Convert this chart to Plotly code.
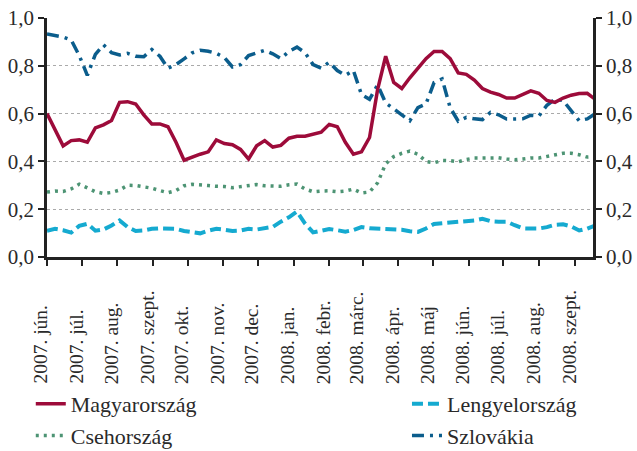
import pandas as pd
import plotly.graph_objects as go

# ---- data (weekly readings, starting 2007-06-01) ----
start_date = "2007-06-01"
n_weeks = 69
dates = pd.date_range(start=start_date, periods=n_weeks, freq="7D")

magyarorszag = [0.60, 0.53, 0.465, 0.487, 0.49, 0.48, 0.54, 0.553, 0.571, 0.647,
                0.65, 0.64, 0.595, 0.557, 0.557, 0.545, 0.48, 0.405, 0.418, 0.43,
                0.44, 0.49, 0.475, 0.47, 0.45, 0.41, 0.465, 0.487, 0.46, 0.467,
                0.497, 0.505, 0.505, 0.515, 0.522, 0.555, 0.545, 0.48, 0.43, 0.44,
                0.50, 0.70, 0.84, 0.73, 0.705, 0.75, 0.79, 0.83, 0.86, 0.86,
                0.83, 0.77, 0.764, 0.74, 0.705, 0.69, 0.68, 0.665, 0.665, 0.68,
                0.695, 0.685, 0.655, 0.647, 0.665, 0.677, 0.684, 0.685, 0.66]

lengyelorszag = [0.11, 0.118, 0.112, 0.102, 0.13, 0.139, 0.11, 0.115, 0.132, 0.153,
                 0.125, 0.109, 0.111, 0.118, 0.12, 0.12, 0.118, 0.109, 0.106, 0.099,
                 0.11, 0.118, 0.114, 0.109, 0.111, 0.118, 0.115, 0.119, 0.126, 0.148,
                 0.166, 0.19, 0.14, 0.103, 0.108, 0.117, 0.112, 0.106, 0.113, 0.125,
                 0.12, 0.119, 0.12, 0.117, 0.114, 0.108, 0.105, 0.119, 0.138, 0.141,
                 0.144, 0.146, 0.147, 0.153, 0.16, 0.15, 0.148, 0.148, 0.133, 0.12,
                 0.119, 0.119, 0.125, 0.135, 0.137, 0.128, 0.111, 0.119, 0.132]

csehorszag = [0.272, 0.276, 0.274, 0.285, 0.305, 0.287, 0.273, 0.266, 0.27, 0.28,
              0.30, 0.299, 0.294, 0.288, 0.278, 0.269, 0.278, 0.298, 0.304, 0.303,
              0.299, 0.296, 0.295, 0.29, 0.295, 0.299, 0.303, 0.298, 0.296, 0.296,
              0.302, 0.305, 0.285, 0.273, 0.276, 0.277, 0.273, 0.276, 0.284, 0.268,
              0.272, 0.31, 0.39, 0.42, 0.434, 0.443, 0.43, 0.40, 0.394, 0.404,
              0.403, 0.398, 0.408, 0.414, 0.414, 0.413, 0.415, 0.41, 0.407, 0.41,
              0.414, 0.414, 0.42, 0.428, 0.434, 0.434, 0.428, 0.418, 0.42]

szlovakia = [0.933, 0.925, 0.92, 0.908, 0.843, 0.76, 0.848, 0.888, 0.855, 0.845,
             0.852, 0.84, 0.838, 0.868, 0.84, 0.79, 0.805, 0.829, 0.854, 0.865,
             0.861, 0.852, 0.835, 0.795, 0.805, 0.843, 0.855, 0.865, 0.85, 0.83,
             0.86, 0.878, 0.855, 0.805, 0.79, 0.815, 0.78, 0.76, 0.78, 0.68,
             0.66, 0.72, 0.645, 0.618, 0.595, 0.57, 0.625, 0.64, 0.73, 0.745,
             0.625, 0.568, 0.584, 0.578, 0.575, 0.605, 0.595, 0.577, 0.576, 0.578,
             0.593, 0.59, 0.635, 0.66, 0.655, 0.61, 0.57, 0.578, 0.60]

month_ticks = pd.date_range(start="2007-06-01", periods=16, freq="MS")
month_labels = ["2007. jún.", "2007. júl.", "2007. aug.", "2007. szept.",
                "2007. okt.", "2007. nov.", "2007. dec.", "2008. jan.",
                "2008. febr.", "2008. márc.", "2008. ápr.", "2008. máj",
                "2008. jún.", "2008. júl.", "2008. aug.", "2008. szept."]

y_ticks = [0, 0.2, 0.4, 0.6, 0.8, 1.0]

# ---- figure ----
FONT = "Liberation Serif"
TXT = "#2a2a2a"

fig = go.Figure()
fig.add_trace(go.Scatter(x=dates, y=szlovakia, name="Szlovákia", mode="lines",
                         line=dict(color="#0b5d8c", width=3.5, dash="12px,6px,3px,6px"),
                         legend="legend2"))
fig.add_trace(go.Scatter(x=dates, y=csehorszag, name="Csehország", mode="lines",
                         line=dict(color="#4d9474", width=3.5, dash="3px,5px"),
                         legend="legend"))
fig.add_trace(go.Scatter(x=dates, y=lengyelorszag, name="Lengyelország", mode="lines",
                         line=dict(color="#15aad0", width=4, dash="11px,5px"),
                         legend="legend2"))
fig.add_trace(go.Scatter(x=dates, y=magyarorszag, name="Magyarország", mode="lines",
                         line=dict(color="#9d0b3a", width=3.5),
                         legend="legend"))
# invisible trace to activate the right axis
fig.add_trace(go.Scatter(x=[dates[0]], y=[0], yaxis="y2", mode="lines",
                         showlegend=False, hoverinfo="skip",
                         line=dict(color="rgba(0,0,0,0)")))

for d, lab in zip(month_ticks, month_labels):
    fig.add_annotation(x=d, xref="x", y=-0.54, yref="paper", text=lab,
                       textangle=-90, showarrow=False, xanchor="center",
                       yanchor="bottom", xshift=-6,
                       font=dict(family=FONT, size=19.5, color=TXT))

axis_common = dict(range=[0, 1], tickvals=y_ticks, tickformat=".1f",
                   showline=True, linecolor="#222", linewidth=2.5,
                   ticks="outside", ticklen=6, tickwidth=2, tickcolor="#222",
                   tickfont=dict(family=FONT, size=21, color=TXT), zeroline=False,
                   automargin=False)

legend_common = dict(xref="paper", yref="container", y=0.1508,
                     xanchor="left", yanchor="top", orientation="v",
                     font=dict(family=FONT, size=22, color=TXT),
                     traceorder="reversed", bgcolor="rgba(0,0,0,0)")

fig.update_layout(
    width=637, height=451,
    margin=dict(l=47, r=44, t=18, b=194),
    paper_bgcolor="white", plot_bgcolor="white",
    separators=", ",
    xaxis=dict(type="date", range=["2007-06-01", "2008-09-17"],
               tickvals=month_ticks, showticklabels=False,
               showline=True, linecolor="#222", linewidth=2.5,
               ticks="outside", ticklen=6, tickwidth=2, tickcolor="#222",
               showgrid=False, zeroline=False, automargin=False),
    yaxis=dict(**axis_common, showgrid=True, gridcolor="#aaaaaa",
               griddash="dot", gridwidth=1, side="left"),
    yaxis2=dict(**axis_common, overlaying="y", side="right", showgrid=False),
    legend=dict(**legend_common, x=-0.0297),
    legend2=dict(**legend_common, x=0.6593),
    showlegend=True,
)

fig.write_html("out.html", config={"displayModeBar": False},
               post_script="document.body.style.margin='0px';")
